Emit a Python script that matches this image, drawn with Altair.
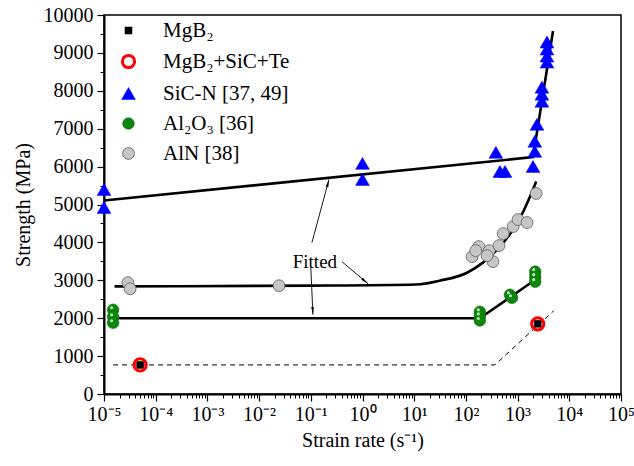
import altair as alt
import pandas as pd

FONT = "Liberation Serif"

series_order = ["MgB₂", "MgB₂+SiC+Te", "SiC-N [37, 49]", "Al₂O₃ [36]", "AlN [38]"]

# --- data points ---
mgb2_x = [5.0e-5, 2450]
mgb2_y = [767, 1852]
mgsic_x = [5.0e-5, 2450]
mgsic_y = [767, 1852]
sic_x = [1e-5, 1e-5, 1, 1, 380, 455, 570, 1990, 2150, 2150, 2370, 2950, 2950, 2950, 3700, 3700, 3700, 3700]
sic_y = [5397, 4921, 6085, 5661, 6376, 5873, 5873, 6005, 6402, 6667, 7116, 7725, 7910, 8095, 8757, 8915, 9101, 9286]
al2o3_x = [1.5e-5, 1.5e-5, 1.5e-5, 186, 186, 186, 710, 780, 2190, 2190, 2190]
al2o3_y = [2222, 2037, 1880, 2169, 2060, 1940, 2619, 2540, 3228, 3095, 2963]
aln_x = [2.9e-5, 3.2e-5, 0.0243, 132, 178, 155, 282, 333, 257, 437, 525, 820, 1020, 1520, 2290]
aln_y = [2937, 2778, 2857, 3624, 3889, 3783, 3783, 3492, 3651, 3915, 4233, 4418, 4603, 4524, 5291]

# --- fitted lines ---
fit_sic_x = [1e-5, 1990, 4840]
fit_sic_y = [5106, 6250, 9577]
fit_al2o3_x = [1.5e-5, 186, 740, 2190]
fit_al2o3_y = [2000, 2000, 2566, 3016]
fit_aln_x = [1.6e-5, 0.1, 11, 31, 105, 213, 455, 820, 1260, 1740, 2290]
fit_aln_y = [2840, 2860, 2890, 2990, 3200, 3466, 3889, 4339, 4788, 5212, 5608]
fit_mgb2_x = [1.5e-5, 363, 5000]
fit_mgb2_y = [767, 767, 2196]

# --- annotation ---
label_x = [0.12]
label_y = [3492]
arrow_x1 = [0.105, 0.40, 0.10]
arrow_y1 = [3995, 3492, 3333]
arrow_x2 = [0.225, 1.28, 0.11]
arrow_y2 = [5661, 2910, 2090]
arrow_ang = [15, 130, 177]

x_major = [10.0 ** k for k in range(-5, 6)]
x_minor = [m * 10.0 ** k for k in range(-5, 5) for m in range(2, 10)]
y_major = list(range(0, 10001, 1000))
y_minor = list(range(500, 10000, 1000))

rows = []
for name, xs, ys in [
    (series_order[0], mgb2_x, mgb2_y),
    (series_order[1], mgsic_x, mgsic_y),
    (series_order[2], sic_x, sic_y),
    (series_order[3], al2o3_x, al2o3_y),
    (series_order[4], aln_x, aln_y),
]:
    for xv, yv in zip(xs, ys):
        rows.append({"series": name, "x": xv, "y": yv, "ord": series_order.index(name)})
pts = pd.DataFrame(rows)

fit_rows = []
for g, xs, ys in [("sic", fit_sic_x, fit_sic_y), ("al", fit_al2o3_x, fit_al2o3_y)]:
    for i, (xv, yv) in enumerate(zip(xs, ys)):
        fit_rows.append({"g": g, "x": xv, "y": yv, "i": i})
fits = pd.DataFrame(fit_rows)
aln_fit = pd.DataFrame({"x": fit_aln_x, "y": fit_aln_y})
dash = pd.DataFrame({"x": fit_mgb2_x, "y": fit_mgb2_y})
arrows = pd.DataFrame({"x1": arrow_x1, "y1": arrow_y1, "x2": arrow_x2, "y2": arrow_y2, "ang": arrow_ang})
lab = pd.DataFrame({"x": label_x, "y": label_y, "t": ["Fitted"]})

xscale = alt.Scale(type="log", domain=[1e-5, 1e5], nice=False)
yscale = alt.Scale(domain=[0, 10000], nice=False, zero=False)

sup = ("'10' + replace(replace(replace(replace(replace(replace(replace("
       "toString(round(log(datum.value)/LN10)), '-', '⁻'), '0', '⁰'), '1', '¹'), "
       "'2', '²'), '3', '³'), '4', '⁴'), '5', '⁵')")

x_axis = alt.Axis(values=x_major, labelExpr=sup, title="Strain rate (s⁻¹)", grid=False,
                  tickSize=7, tickWidth=1.2, domainWidth=2, labelPadding=3, titlePadding=6,
                  labelFont=FONT, titleFont=FONT, labelFontSize=20, titleFontSize=20,
                  titleFontWeight="normal")
y_axis = alt.Axis(values=y_major, format="d", title="Strength (MPa)", grid=False,
                  tickSize=7, tickWidth=1.2, domainWidth=2, labelPadding=4, titlePadding=10,
                  labelFont=FONT, titleFont=FONT, labelFontSize=20, titleFontSize=20,
                  titleFontWeight="normal")

X = alt.X("x:Q", scale=xscale, axis=x_axis)
Y = alt.Y("y:Q", scale=yscale, axis=y_axis)

fit_lines = alt.Chart(fits).mark_line(color="black", strokeWidth=2.6).encode(
    x=X, y=Y, detail="g:N", order="i:Q")
aln_line = alt.Chart(aln_fit).mark_line(color="black", strokeWidth=2.6, interpolate="monotone").encode(
    x=X, y=Y)
dash_line = alt.Chart(dash).mark_line(color="black", strokeWidth=1, strokeDash=[5, 4]).encode(
    x=X, y=Y)

legend = alt.Legend(title=None, orient="none", legendX=14, legendY=5,
                    labelFont=FONT, labelFontSize=21, labelColor="black",
                    rowPadding=8, labelOffset=24,
                    symbolStrokeWidth=alt.ExprRef("datum.value == 'MgB₂+SiC+Te' ? 3 : 1"))
dom = series_order
points = alt.Chart(pts).mark_point(opacity=1, fillOpacity=1).encode(
    x=X, y=Y,
    shape=alt.Shape("series:N", scale=alt.Scale(domain=dom, range=["square", "circle", "triangle-up", "circle", "circle"]), legend=legend),
    fill=alt.Fill("series:N", scale=alt.Scale(domain=dom, range=["black", "transparent", "#0000ff", "#0c870c", "#c6c6c6"]), legend=legend),
    stroke=alt.Stroke("series:N", scale=alt.Scale(domain=dom, range=["black", "#ff0000", "#0000ff", "#086608", "#6a6a6a"]), legend=legend),
    strokeWidth=alt.StrokeWidth("series:N", scale=alt.Scale(type="ordinal", domain=dom, range=[0.5, 3, 0.5, 0.6, 0.9]), legend=None),
    size=alt.Size("series:N", scale=alt.Scale(type="ordinal", domain=dom, range=[50, 150, 190, 135, 140]), legend=legend),
    order=alt.Order("ord:Q"),
)
highlight = alt.Chart(pts[pts["series"] == series_order[3]]).mark_circle(
    size=10, color="#c8f0c8", opacity=0.9, xOffset=-1.5, yOffset=-2).encode(x=X, y=Y)

arrow_lines = alt.Chart(arrows).mark_rule(color="black", strokeWidth=0.9).encode(
    x=alt.X("x1:Q", scale=xscale, axis=x_axis), y=alt.Y("y1:Q", scale=yscale, axis=y_axis),
    x2="x2:Q", y2="y2:Q")
heads = alt.Chart(arrows).mark_point(shape="M0,0L-0.35,2L0.35,2Z", filled=True, color="black",
                                     opacity=1, size=60).encode(
    x=alt.X("x2:Q", scale=xscale, axis=x_axis), y=alt.Y("y2:Q", scale=yscale, axis=y_axis),
    angle=alt.Angle("ang:Q", scale=None))
text = alt.Chart(lab).mark_text(font=FONT, fontSize=19, color="black").encode(
    x=X, y=Y, text="t:N")

minor_x = alt.Chart(pd.DataFrame({"x": [1e-5]})).mark_rule(opacity=0).encode(
    x=alt.X("x:Q", scale=xscale, axis=alt.Axis(orient="bottom", values=x_minor, labels=False, title=None,
                                               grid=False, domain=False, tickSize=4, tickWidth=1)))
minor_y = alt.Chart(pd.DataFrame({"y": [0]})).mark_rule(opacity=0).encode(
    y=alt.Y("y:Q", scale=yscale, axis=alt.Axis(orient="left", values=y_minor, labels=False, title=None,
                                               grid=False, domain=False, tickSize=4, tickWidth=1)))

base = alt.layer(fit_lines, aln_line, dash_line, arrow_lines, heads, text, points, highlight)
chart = alt.layer(base, minor_x, minor_y).resolve_axis(x="independent", y="independent").properties(
    width=517, height=379,
    autosize=alt.AutoSizeParams(type="none"),
    padding={"left": 104, "top": 15, "right": 13, "bottom": 72},
).configure(
    background="white", font=FONT,
    style={"guide-label": {"font": FONT}, "guide-title": {"font": FONT}},
).configure_view(stroke="black", strokeWidth=1.5).configure_axis(
    labelFont=FONT, labelFontSize=20, labelColor="black",
    titleFont=FONT, titleFontSize=20, titleFontWeight="normal", titleColor="black",
    domainColor="black", tickColor="black", labelFlush=False,
)

chart.save("out.html", embed_options={"renderer": "svg", "actions": False})
